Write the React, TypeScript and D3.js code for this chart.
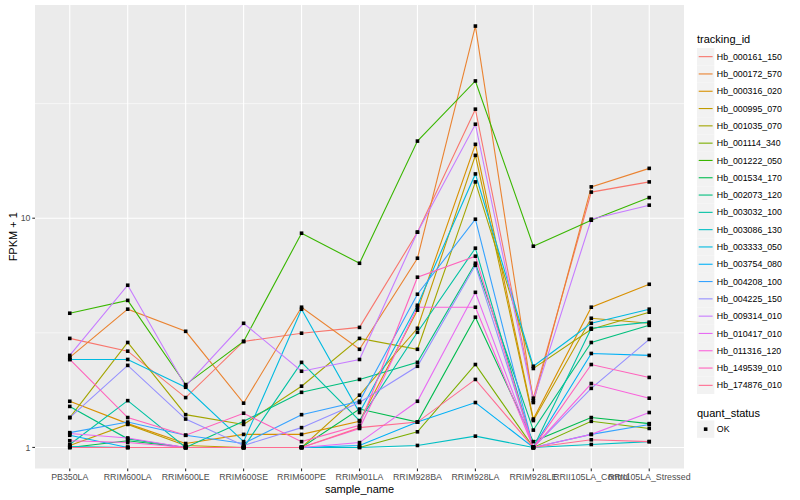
import React from "react";
import * as d3 from "d3";

const samples = [
  "PB350LA", "RRIM600LA", "RRIM600LE", "RRIM600SE", "RRIM600PE", "RRIM901LA",
  "RRIM928BA", "RRIM928LA", "RRIM928LE", "RRII105LA_Control", "RRII105LA_Stressed",
];

const trackingIds = [
  "Hb_000161_150", "Hb_000172_570", "Hb_000316_020", "Hb_000995_070", "Hb_001035_070",
  "Hb_001114_340", "Hb_001222_050", "Hb_001534_170", "Hb_002073_120", "Hb_003032_100",
  "Hb_003086_130", "Hb_003333_050", "Hb_003754_080", "Hb_004208_100", "Hb_004225_150",
  "Hb_009314_010", "Hb_010417_010", "Hb_011316_120", "Hb_149539_010", "Hb_174876_010",
];

const palette = [
  "#F8766D", "#EA8331", "#D89000", "#C09B00", "#A3A500", "#7CAE00", "#39B600", "#00BB4E",
  "#00BF7D", "#00C1A3", "#00BFC4", "#00BAE0", "#00B0F6", "#35A2FF", "#9590FF", "#C77CFF",
  "#E76BF3", "#FA62DB", "#FF62BC", "#FF6C91",
];

// FPKM + 1 per sample (order of `samples`)
const hb000161_150 = [2.99, 2.63, 1.65, 2.9, 3.15, 3.34, 8.69, 29.9, 1.64, 13.0, 14.4];
const hb000172_570 = [2.47, 4.01, 3.21, 1.56, 4.09, 2.68, 6.69, 68.9, 1.57, 13.7, 16.5];
const hb000316_020 = [1.59, 1.27, 1.04, 1.14, 1.14, 1.3, 3.97, 21.0, 1.33, 4.09, 5.15];
const hb000995_070 = [1.02, 1.26, 1.02, 1.0, 1.0, 1.69, 3.31, 18.8, 1.31, 3.66, 3.48];
const hb001035_070 = [1.35, 2.87, 1.39, 1.26, 1.85, 2.99, 2.68, 14.4, 2.21, 3.28, 3.89];
const hb001114_340 = [1.0, 1.0, 1.0, 1.0, 1.0, 1.0, 1.17, 2.3, 1.0, 1.3, 1.21];
const hb001222_050 = [3.85, 4.38, 1.88, 2.9, 8.6, 6.36, 21.7, 39.7, 7.55, 9.8, 12.3];
const hb001534_170 = [1.0, 1.07, 1.0, 1.0, 1.0, 1.47, 1.29, 3.7, 1.06, 1.35, 1.27];
const hb002073_120 = [1.51, 1.09, 1.0, 1.3, 1.74, 1.98, 2.35, 6.36, 1.19, 2.87, 3.41];
const hb003032_100 = [1.03, 1.6, 1.0, 1.0, 2.35, 1.31, 3.18, 7.4, 1.0, 3.31, 3.52];
const hb003086_130 = [1.01, 1.0, 1.0, 1.0, 1.0, 1.0, 1.02, 1.12, 1.0, 1.03, 1.06];
const hb003333_050 = [2.42, 2.42, 1.83, 1.06, 4.01, 1.42, 4.17, 15.6, 2.26, 3.48, 4.01];
const hb003754_080 = [1.13, 1.0, 1.0, 1.0, 1.0, 1.02, 1.29, 1.57, 1.0, 2.57, 2.52];
const hb004208_100 = [1.16, 1.29, 1.13, 1.04, 1.39, 1.59, 4.66, 9.9, 1.0, 1.14, 1.26];
const hb004225_150 = [1.35, 2.28, 1.33, 1.02, 1.22, 1.57, 2.26, 6.23, 1.0, 1.81, 2.96];
const hb009314_010 = [2.52, 5.1, 1.85, 3.48, 2.15, 2.42, 8.69, 25.7, 1.6, 9.9, 11.4];
const hb010417_010 = [1.15, 1.1, 1.0, 1.0, 1.0, 1.05, 1.59, 4.75, 1.0, 1.14, 1.42];
const hb011316_120 = [1.07, 1.05, 1.0, 1.0, 1.0, 1.21, 4.09, 4.09, 1.0, 1.9, 1.64];
const hb149539_010 = [2.42, 1.35, 1.13, 1.41, 1.06, 1.25, 5.53, 6.83, 1.0, 2.3, 2.02];
const hb174876_010 = [1.0, 1.0, 1.0, 1.0, 1.0, 1.22, 1.29, 1.98, 1.0, 1.08, 1.06];

const seriesValues = [
  hb000161_150, hb000172_570, hb000316_020, hb000995_070, hb001035_070,
  hb001114_340, hb001222_050, hb001534_170, hb002073_120, hb003032_100,
  hb003086_130, hb003333_050, hb003754_080, hb004208_100, hb004225_150,
  hb009314_010, hb010417_010, hb011316_120, hb149539_010, hb174876_010,
];

const yMajor = [1, 10, 100];
const yMinor = [Math.sqrt(10), Math.sqrt(1000)];

const W = 800;
const H = 500;
const panel = { left: 35, right: 684, top: 5, bottom: 468.5 };
const FONT = "'Liberation Sans', Arial, Helvetica, sans-serif";

export default function App() {
  const x = d3
    .scalePoint<string>()
    .domain(samples)
    .range([panel.left, panel.right])
    .padding(0.6);

  const all = seriesValues.flat();
  const [lo, hi] = d3.extent(all.map((v) => Math.log10(v))) as [number, number];
  const pad = (hi - lo) * 0.05;
  const y = d3
    .scaleLog()
    .domain([Math.pow(10, lo - pad), Math.pow(10, hi + pad)])
    .range([panel.bottom, panel.top]);

  const line = d3
    .line<number>()
    .x((_, i) => x(samples[i]) as number)
    .y((v) => y(v));

  const inPanel = (v: number) => y(v) >= panel.top && y(v) <= panel.bottom;

  const legendX = 697;
  const legendY0 = 48;
  const keySize = 17.3;

  return (
    <svg
      width={W}
      height={H}
      style={{ position: "absolute", left: 0, top: 0, fontFamily: FONT }}
    >
      <rect x={0} y={0} width={W} height={H} fill="#ffffff" />
      <rect
        x={panel.left}
        y={panel.top}
        width={panel.right - panel.left}
        height={panel.bottom - panel.top}
        fill="#EBEBEB"
      />
      {yMinor.filter(inPanel).map((v) => (
        <line
          key={"mn" + v}
          x1={panel.left}
          x2={panel.right}
          y1={y(v)}
          y2={y(v)}
          stroke="#ffffff"
          strokeWidth={0.55}
        />
      ))}
      {yMajor.filter(inPanel).map((v) => (
        <line
          key={"mj" + v}
          x1={panel.left}
          x2={panel.right}
          y1={y(v)}
          y2={y(v)}
          stroke="#ffffff"
          strokeWidth={1.1}
        />
      ))}
      {samples.map((s) => (
        <line
          key={"gx" + s}
          x1={x(s)}
          x2={x(s)}
          y1={panel.top}
          y2={panel.bottom}
          stroke="#ffffff"
          strokeWidth={1.1}
        />
      ))}

      {seriesValues.map((vals, i) => (
        <path
          key={"ln" + i}
          d={line(vals) || ""}
          fill="none"
          stroke={palette[i]}
          strokeWidth={1.1}
        />
      ))}
      {seriesValues.map((vals, i) =>
        vals.map((v, j) => (
          <rect
            key={"pt" + i + "_" + j}
            x={(x(samples[j]) as number) - 1.8}
            y={y(v) - 1.8}
            width={3.6}
            height={3.6}
            fill="#000000"
          />
        ))
      )}

      {/* y axis */}
      {yMajor.filter(inPanel).map((v) => (
        <g key={"yt" + v}>
          <line
            x1={panel.left - 2.7}
            x2={panel.left}
            y1={y(v)}
            y2={y(v)}
            stroke="#333333"
            strokeWidth={1.1}
          />
          <text
            x={panel.left - 4.5}
            y={y(v)}
            dy="0.35em"
            textAnchor="end"
            fontSize={8.8}
            fill="#4D4D4D"
          >
            {d3.format("d")(v)}
          </text>
        </g>
      ))}
      <text
        transform={`translate(16.5, ${(panel.top + panel.bottom) / 2}) rotate(-90)`}
        textAnchor="middle"
        fontSize={11}
        fill="#000000"
      >
        FPKM + 1
      </text>

      {/* x axis */}
      {samples.map((s) => (
        <g key={"xt" + s}>
          <line
            x1={x(s)}
            x2={x(s)}
            y1={panel.bottom}
            y2={panel.bottom + 2.7}
            stroke="#333333"
            strokeWidth={1.1}
          />
          <text
            x={x(s)}
            y={panel.bottom + 11.5}
            textAnchor="middle"
            fontSize={8.8}
            fill="#4D4D4D"
          >
            {s}
          </text>
        </g>
      ))}
      <text
        x={(panel.left + panel.right) / 2}
        y={493}
        textAnchor="middle"
        fontSize={11}
        fill="#000000"
      >
        sample_name
      </text>

      {/* legend: tracking_id */}
      <text x={legendX} y={43} fontSize={11} fill="#000000">
        tracking_id
      </text>
      {trackingIds.map((id, i) => {
        const ky = legendY0 + i * keySize;
        return (
          <g key={"lg" + id}>
            <rect x={legendX} y={ky} width={keySize} height={keySize} fill="#F2F2F2" />
            <line
              x1={legendX + 1.7}
              x2={legendX + keySize - 1.7}
              y1={ky + keySize / 2}
              y2={ky + keySize / 2}
              stroke={palette[i]}
              strokeWidth={1.1}
            />
            <text
              x={legendX + keySize + 2.5}
              y={ky + keySize / 2}
              dy="0.35em"
              fontSize={8.8}
              fill="#000000"
            >
              {id}
            </text>
          </g>
        );
      })}

      {/* legend: quant_status */}
      <text x={legendX} y={416.5} fontSize={11} fill="#000000">
        quant_status
      </text>
      <rect x={legendX} y={420.5} width={keySize} height={keySize} fill="#F2F2F2" />
      <rect
        x={legendX + keySize / 2 - 1.8}
        y={420.5 + keySize / 2 - 1.8}
        width={3.6}
        height={3.6}
        fill="#000000"
      />
      <text
        x={legendX + keySize + 2.5}
        y={420.5 + keySize / 2}
        dy="0.35em"
        fontSize={8.8}
        fill="#000000"
      >
        OK
      </text>
    </svg>
  );
}
